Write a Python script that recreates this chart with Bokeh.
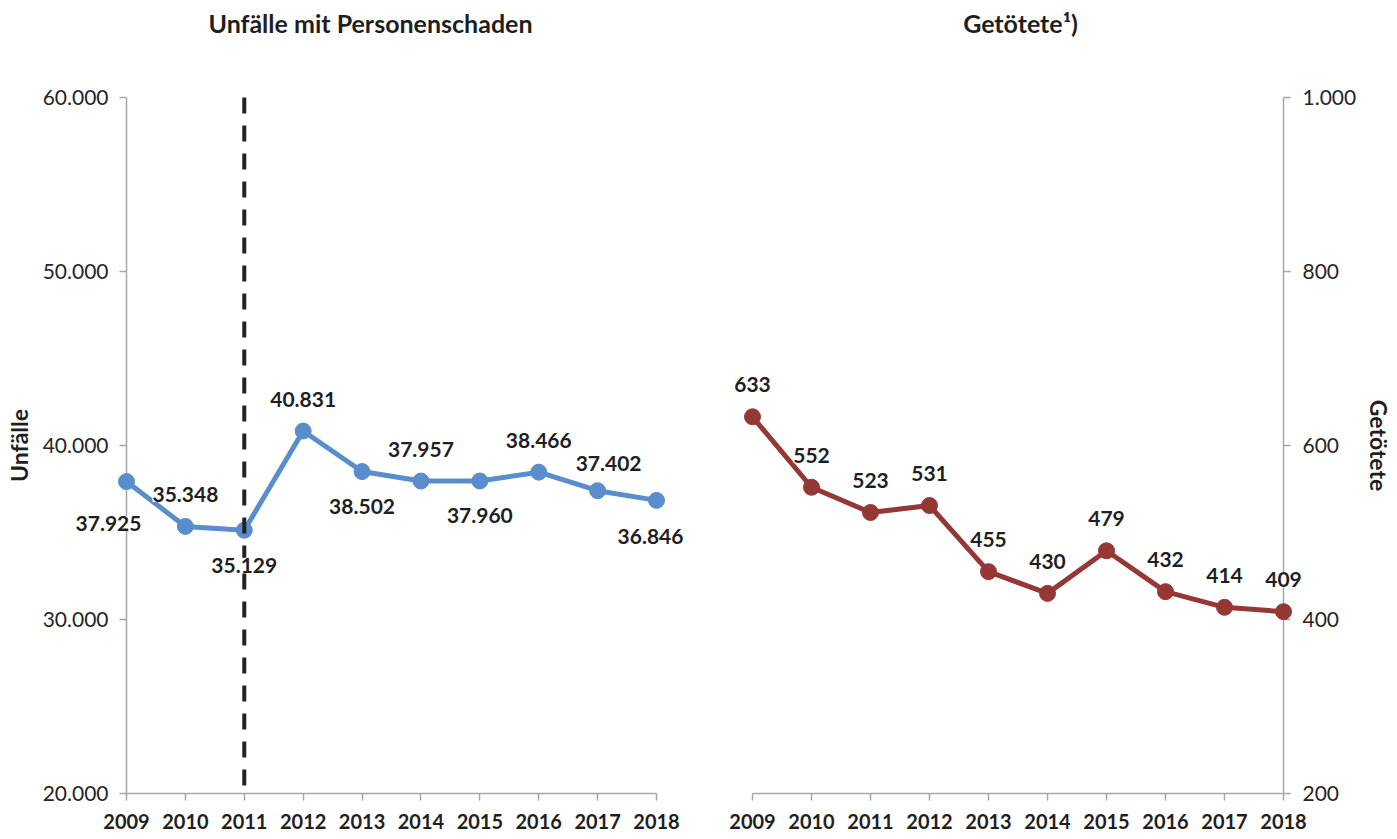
import math
from bokeh.plotting import figure
from bokeh.layouts import row
from bokeh.models import FixedTicker, ColumnDataSource, Range1d
from bokeh.core.properties import value
from bokeh.embed import file_html
from bokeh.resources import INLINE

# ---------------- data ----------------
years = [2009, 2010, 2011, 2012, 2013, 2014, 2015, 2016, 2017, 2018]
year_labels = ["2009", "2010", "2011", "2012", "2013", "2014", "2015", "2016", "2017", "2018"]

unfaelle = [37925, 35348, 35129, 40831, 38502, 37957, 37960, 38466, 37402, 36846]
unfaelle_labels = ["37.925", "35.348", "35.129", "40.831", "38.502",
                   "37.957", "37.960", "38.466", "37.402", "36.846"]

getoetete = [633, 552, 523, 531, 455, 430, 479, 432, 414, 409]
getoetete_labels = ["633", "552", "523", "531", "455", "430", "479", "432", "414", "409"]

left_ticks = [20000, 30000, 40000, 50000, 60000]
left_tick_labels = ["20.000", "30.000", "40.000", "50.000", "60.000"]
right_ticks = [200, 400, 600, 800, 1000]
right_tick_labels = ["200", "400", "600", "800", "1.000"]

marker_year = 2011

title_left = "Unfälle mit Personenschaden"
title_right = "Getötete¹)"
ylabel_left = "Unfälle"
ylabel_right = "Getötete"

# label placement codes (style, not data); offsets in px (positive dy = down)
unfaelle_label_side = ["bl", "a", "b", "a", "b", "a", "b", "a", "ar", "bw"]
getoetete_label_side = ["a"] * 10
SIDE_OFFSETS = {"a": (0, -32), "b": (0, 35), "bl": (-18, 42), "ar": (11, -27), "bw": (-6, 36)}

# ---------------- style ----------------
FONT = "Lato"
TXT = "#1f1f1f"
AX = "#a6a6a6"
BLUE = "#5a8dcc"
RED = "#953735"
H = 838


def make_fig(width, yrange, ticks, tick_labels, yloc, mbl, mbr):
    p = figure(width=width, height=H, x_range=Range1d(2009, 2018), y_range=Range1d(*yrange),
               output_backend="svg", toolbar_location=None, y_axis_location=yloc,
               min_border_left=mbl, min_border_right=mbr, min_border_top=97, min_border_bottom=45)
    p.outline_line_color = None
    p.grid.visible = False
    p.xaxis.ticker = FixedTicker(ticks=years)
    p.xaxis.major_label_overrides = {y: l for y, l in zip(years, year_labels)}
    p.yaxis.ticker = FixedTicker(ticks=ticks)
    p.yaxis.major_label_overrides = {t: l for t, l in zip(ticks, tick_labels)}
    for ax in p.axis:
        ax.axis_line_color = AX
        ax.axis_line_width = 1.5
        ax.major_tick_line_color = AX
        ax.major_tick_line_width = 1.5
        ax.major_tick_in = 0
        ax.major_tick_out = 7
        ax.minor_tick_line_color = None
    p.xaxis.major_label_text_font = FONT
    p.xaxis.major_label_text_font_style = "bold"
    p.xaxis.major_label_text_font_size = "20px"
    p.xaxis.major_label_text_color = TXT
    p.xaxis.major_label_standoff = 13
    p.yaxis.major_label_text_font = FONT
    p.yaxis.major_label_text_font_size = "21px"
    p.yaxis.major_label_text_color = "#262626"
    p.yaxis.major_label_standoff = 11
    return p


def add_series(p, vals, color):
    src = ColumnDataSource(dict(x=years, y=vals))
    p.line("x", "y", source=src, line_width=5, line_color=color, level="annotation")
    p.scatter("x", "y", source=src, size=16, fill_color=color, line_color=color, level="annotation")


def add_value_labels(p, vals, labels, sides):
    dx = [SIDE_OFFSETS[s][0] for s in sides]
    dy = [SIDE_OFFSETS[s][1] for s in sides]
    src = ColumnDataSource(dict(x=years, y=vals, txt=labels, dx=dx, dy=dy))
    p.text("x", "y", text="txt", x_offset="dx", y_offset="dy", source=src,
           text_align="center", text_baseline="middle", text_font=value(FONT),
           text_font_style="bold", text_font_size="21px", text_color=TXT,
           background_fill_color="white", level="overlay")


def add_text(p, x, y, text, xoff, yoff, size, angle=0.0):
    p.text(x=[x], y=[y], text=[text], x_offset=xoff, y_offset=yoff, angle=angle,
           text_align="center", text_baseline="middle", text_font=value(FONT),
           text_font_style="bold", text_font_size=size, text_color=TXT, level="overlay")


# left panel
p1 = make_fig(700, (20000, 60000), left_ticks, left_tick_labels, "left", 126, 44)
add_series(p1, unfaelle, BLUE)
p1.segment(x0=[marker_year], y0=[left_ticks[-1]], x1=[marker_year], y1=[left_ticks[0]],
           line_color="#222222", line_width=4, line_dash="16 12", level="annotation")
add_value_labels(p1, unfaelle, unfaelle_labels, unfaelle_label_side)
add_text(p1, years[0], left_ticks[-1], title_left, 244, -75, "25px")
add_text(p1, years[0], left_ticks[2], ylabel_left, -108, 0, "23px", math.pi / 2)

# right panel
p2 = make_fig(696, (200, 1000), right_ticks, right_tick_labels, "right", 52, 113)
p2.yaxis.major_label_standoff = 12
add_series(p2, getoetete, RED)
add_value_labels(p2, getoetete, getoetete_labels, getoetete_label_side)
add_text(p2, years[0], right_ticks[-1], title_right, 268, -75, "25px")
add_text(p2, years[-1], right_ticks[2], ylabel_right, 95, 0, "23px", -math.pi / 2)

layout = row(p1, p2)
open("out.html", "w").write(file_html(layout, INLINE))
